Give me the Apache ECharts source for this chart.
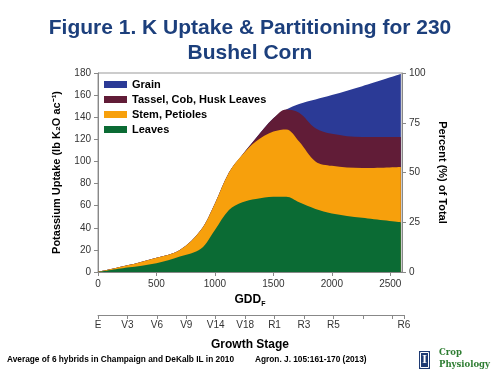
<!DOCTYPE html>
<html>
<head>
<meta charset="utf-8">
<script src="https://cdn.jsdelivr.net/npm/echarts@6/dist/echarts.min.js"></script>
<style>
  html, body { margin: 0; padding: 0; background: #fff; }
  #chart { width: 500px; height: 375px; }
</style>
</head>
<body>
<div id="chart"></div>
<script>
// GDD points shared by all layers
var gdd = [0, 250, 500, 700, 880, 1000, 1120, 1235, 1350, 1500, 1610, 1720, 1860, 2000, 2260, 2590];
// K uptake per plant part (lb K2O/ac)
var leaves = [0, 4, 8, 14, 21, 38, 56, 63, 66, 68, 68, 63, 57, 53, 49, 45];
var stem   = [0, 2, 5, 6, 17, 24, 34, 43, 52, 59, 61, 55, 43, 43, 45, 50];
var tassel = [0, 0, 0, 0, 0, 0, 0, 0, 3, 12, 18, 26, 30, 29, 28, 27];
var grain  = [0, 0, 0, 0, 0, 0, 0, 0, 0, 0, 0, 8, 26, 35, 46, 57];

var gddTicks = [0, 500, 1000, 1500, 2000, 2500];
var stageGdd = [0, 250, 500, 750, 1000, 1250, 1500, 1750, 2000, 2250, 2500, 2600];
var stageLabels = ['E', 'V3', 'V6', 'V9', 'V14', 'V18', 'R1', 'R3', 'R5', '', '', 'R6'];

var font = 'Liberation Sans, Arial, sans-serif';

// running totals so each area is drawn from zero, top layer first
function cumulative(parts) {
  return gdd.map(function (x, i) {
    var s = 0;
    parts.forEach(function (p) { s += p[i]; });
    return [x, s];
  });
}

function layer(name, parts, color) {
  return {
    name: name,
    type: 'line',
    smooth: 0.35,
    symbol: 'none',
    lineStyle: { width: 0 },
    areaStyle: { color: color, opacity: 1 },
    itemStyle: { color: color },
    data: cumulative(parts)
  };
}

var chart = echarts.init(document.getElementById('chart'));
chart.setOption({
  animation: false,
  backgroundColor: '#ffffff',
  textStyle: { fontFamily: font },
  title: {
    text: 'Figure 1. K Uptake & Partitioning for 230\nBushel Corn',
    left: 'center',
    top: 11,
    textStyle: { fontSize: 21, fontWeight: 'bold', color: '#1c3f7c', lineHeight: 25, fontFamily: font }
  },
  legend: {
    orient: 'vertical',
    left: 99,
    top: 74,
    itemWidth: 23,
    itemHeight: 7,
    itemGap: 4,
    icon: 'rect',
    textStyle: { fontSize: 11, fontWeight: 'bold', color: '#000', fontFamily: font },
    data: ['Grain', 'Tassel, Cob, Husk Leaves', 'Stem, Petioles', 'Leaves']
  },
  grid: [
    { left: 98, right: 98, top: 73, bottom: 103, show: true, borderColor: '#999', borderWidth: 1 },
    { left: 98, right: 96, top: 314, height: 1 }
  ],
  xAxis: [{
    type: 'value',
    min: 0,
    max: 2600,
    name: '{a|GDD}{b|F}',
    nameLocation: 'middle',
    nameGap: 20,
    nameTextStyle: {
      rich: {
        a: { fontSize: 12, fontWeight: 'bold', color: '#000', fontFamily: font },
        b: { fontSize: 7, fontWeight: 'bold', color: '#000', fontFamily: font, padding: [8, 0, 0, 0] }
      }
    },
    axisLine: { lineStyle: { color: '#888' } },
    axisTick: { customValues: gddTicks, length: 4, lineStyle: { color: '#888' } },
    axisLabel: { customValues: gddTicks, fontSize: 10, color: '#333', margin: 7, formatter: function (v) { return String(v); } },
    splitLine: { show: false }
  }, {
    gridIndex: 1,
    type: 'value',
    min: 0,
    max: 2600,
    axisLine: { lineStyle: { color: '#888' } },
    axisTick: { customValues: stageGdd, length: 4, lineStyle: { color: '#888' } },
    axisLabel: {
      customValues: stageGdd,
      fontSize: 10,
      color: '#333',
      margin: 5,
      formatter: function (v) {
        var i = stageGdd.indexOf(v);
        return i < 0 ? '' : stageLabels[i];
      }
    },
    splitLine: { show: false }
  }],
  yAxis: [{
    type: 'value',
    min: 0,
    max: 180,
    interval: 20,
    name: 'Potassium Uptake (lb K\u2082O ac\u207B\u00B9)',
    nameLocation: 'middle',
    nameGap: 36,
    nameTextStyle: { fontSize: 11, fontWeight: 'bold', color: '#000', fontFamily: font },
    axisLine: { show: true, lineStyle: { color: '#888' } },
    axisTick: { show: true, length: 4, lineStyle: { color: '#888' } },
    axisLabel: { fontSize: 10, color: '#333', margin: 7 },
    splitLine: { show: false }
  }, {
    type: 'value',
    min: 0,
    max: 100,
    interval: 25,
    position: 'right',
    alignTicks: false,
    name: 'Percent (%) of Total',
    nameLocation: 'middle',
    nameRotate: -90,
    nameGap: 31,
    nameTextStyle: { fontSize: 11, fontWeight: 'bold', color: '#000', fontFamily: font },
    axisLine: { show: true, lineStyle: { color: '#888' } },
    axisTick: { show: true, length: 4, lineStyle: { color: '#888' } },
    axisLabel: { fontSize: 10, color: '#333', margin: 7 },
    splitLine: { show: false }
  }, {
    gridIndex: 1,
    type: 'value',
    show: false
  }],
  graphic: [
    { type: 'text', left: 'center', top: 339, style: { text: 'Growth Stage', font: 'bold 12px ' + font, fill: '#000' } },
    { type: 'text', left: 7, top: 356, style: { text: 'Average of 6 hybrids in Champaign and DeKalb IL in 2010', font: 'bold 8.3px ' + font, fill: '#000' } },
    { type: 'text', left: 255, top: 356, style: { text: 'Agron. J. 105:161-170 (2013)', font: 'bold 8.3px ' + font, fill: '#000' } },
    { type: 'rect', shape: { x: 419, y: 351, width: 11, height: 18 }, style: { fill: '#1f3b73' } },
    { type: 'rect', shape: { x: 420.5, y: 352.5, width: 8, height: 15 }, style: { fill: 'none', stroke: '#ffffff', lineWidth: 1 } },
    { type: 'text', x: 424.5, y: 360, style: { text: 'I', font: 'bold 12px Liberation Serif, serif', fill: '#ffffff', align: 'center', verticalAlign: 'middle' } },
    { type: 'text', left: 439, top: 348, style: { text: 'Crop', font: 'bold 8.5px DejaVu Serif, serif', fill: '#2e7d32' } },
    { type: 'text', left: 439, top: 360, style: { text: 'Physiology', font: 'bold 8.5px DejaVu Serif, serif', fill: '#2e7d32' } }
  ],
  series: [
    layer('Grain', [leaves, stem, tassel, grain], '#2b3a96'),
    layer('Tassel, Cob, Husk Leaves', [leaves, stem, tassel], '#611c37'),
    layer('Stem, Petioles', [leaves, stem], '#f7a00c'),
    layer('Leaves', [leaves], '#0b6b34')
  ]
});
</script>
</body>
</html>
